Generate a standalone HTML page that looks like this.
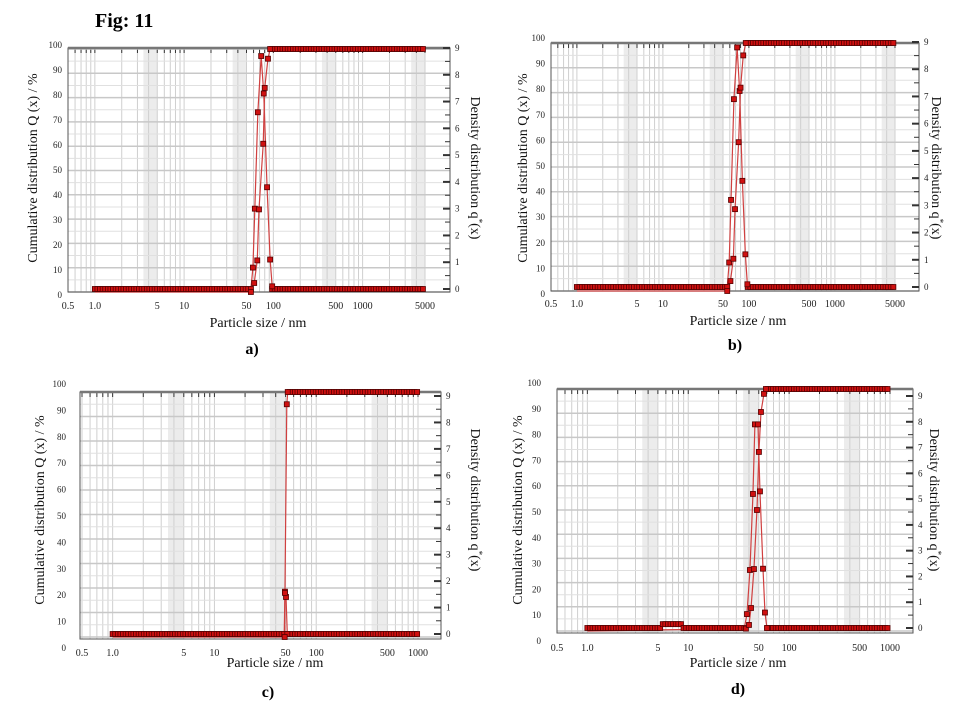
<!DOCTYPE html>
<html><head><meta charset="utf-8">
<style>
html,body{margin:0;padding:0;background:#fff;}
svg{display:block;font-family:"Liberation Serif",serif;}
</style></head>
<body>
<svg id="fig" width="960" height="720" viewBox="0 0 960 720" xmlns="http://www.w3.org/2000/svg">
<text x="95" y="27" font-size="20" font-weight="bold">Fig: 11</text>
</svg>
<script>
// ---- data ----
const xTicksA = [0.5,1,5,10,50,100,500,1000,5000];
const xTicksB = [0.5,1,5,10,50,100,500,1000,5000];
const xTicksC = [0.5,1,5,10,50,100,500,1000];
const xTicksD = [0.5,1,5,10,50,100,500,1000];
const xTickLabelsA = ["0.5","1.0","5","10","50","100","500","1000","5000"];
const xTickLabelsC = ["0.5","1.0","5","10","50","100","500","1000"];
const qTicks = [0,1,2,3,4,5,6,7,8,9];
const QTicks = [0,10,20,30,40,50,60,70,80,90,100];

const cumSizesA = [56,61,66,69,77,80,87,92];
const cumValsA  = [0,3.7,13,34,61,84,96,100];
const denSizesA = [56,59,62,67,73,78,85,92,97];
const denValsA  = [0,0.8,3.0,6.6,8.7,7.3,3.8,1.1,0.1];

const cumSizesB = [56,61,66,69,76,80,86,92];
const cumValsB  = [0,4,13,33,60,82,95,100];
const denSizesB = [56,59,62,67,73,78,84,91,96];
const denValsB  = [0,0.9,3.2,6.9,8.8,7.2,3.9,1.2,0.1];

const cumSizesC = [49,49.3,51.4,52.5];
const cumValsC  = [0,18,95,100];
const denSizesC = [48.5,49.3,50.5,52];
const denValsC  = [0,1.6,1.4,0];

const cumSizesD = [37.3,40,41.9,44.8,48,50.2,52.6,56.3,58.9];
const cumValsD  = [1,2.5,9.5,25.6,50,74,90.5,98,100];
const denSizesD = [36,38.2,40.9,43.8,45.8,49.1,51.4,55.1,57.6,60.3];
const denValsD  = [0,0.54,2.25,5.2,7.9,7.9,5.3,2.3,0.6,0];
const stepRangeD = [5.5,8.9];
const stepValD = 0.15;

// ---- rendering ----
const NS="http://www.w3.org/2000/svg";
const svg=document.getElementById('fig');
function mk(tag,attrs,parent){const e=document.createElementNS(NS,tag);for(const k in attrs)e.setAttribute(k,attrs[k]);(parent||svg).appendChild(e);return e;}

function panel(cfg){
  const g=mk('g',{});
  
  
  const lmin=Math.log10(cfg.xmin), lmax=Math.log10(cfg.xmax);
  const xs=v=>cfg.x0+(Math.log10(v)-lmin)/(lmax-lmin)*(cfg.x1-cfg.x0);
  const xinv=p=>Math.pow(10,lmin+(p-cfg.x0)/(cfg.x1-cfg.x0)*(lmax-lmin));
  const yQ=v=>cfg.Q0+v/100*(cfg.Q100-cfg.Q0);
  const yq=v=>cfg.q0+v/9*(cfg.q9-cfg.q0);
  const yQl=v=>cfg.lQ0+v/100*(cfg.lQ100-cfg.lQ0);
  // shading bands
  for(let d=-1;d<=3;d++){
    const a=3.5*Math.pow(10,d), b=5*Math.pow(10,d);
    if(b<=cfg.xmin||a>=cfg.xmax) continue;
    const r=mk('rect',{x:xs(Math.max(a,cfg.xmin)),y:cfg.T,width:xs(Math.min(b,cfg.xmax))-xs(Math.max(a,cfg.xmin)),height:cfg.B-cfg.T,fill:'#ececec'},g);
    
    
  }
  // vertical grid + top ticks
  for(let d=-1;d<=3;d++){for(let k=1;k<=9;k++){
    const v=k*Math.pow(10,d); if(v<cfg.xmin||v>cfg.xmax) continue;
    const x=xs(v);
    mk('line',{x1:x,y1:cfg.T,x2:x,y2:cfg.B,stroke:'#cfcfcf','stroke-width':1},g);
    mk('line',{x1:x,y1:cfg.T,x2:x,y2:cfg.T+5,stroke:'#333','stroke-width':1},g);
  }}
  // horizontal grid
  for(let v=0;v<=100;v+=5){
    const y=yQ(v);
    mk('line',{x1:cfg.L,y1:y,x2:cfg.R,y2:y,stroke:v%10?'#e0e0e0':'#c8c8c8','stroke-width':v%10?1:1.5},g);
  }
  // frame
  const fr=mk('rect',{x:cfg.L,y:cfg.T,width:cfg.R-cfg.L,height:cfg.B-cfg.T,fill:'none',stroke:'#555','stroke-width':1},g);
  
  
  mk('line',{x1:cfg.L,y1:cfg.T,x2:cfg.R,y2:cfg.T,stroke:'#777','stroke-width':2.5},g);
  // right axis ticks
  for(let v=0;v<=9;v+=0.5){
    const y=yq(v);
    mk('line',{x1:cfg.R-(v%1?5:7),y1:y,x2:cfg.R,y2:y,stroke:'#333','stroke-width':v%1?1:2},g);
  }
  qTicks.forEach(v=>{
    const t=mk('text',{x:cfg.R+5,y:yq(v)+3,'font-size':9,fill:'#222'},g);
    t.textContent=v;
    
    
  });
  QTicks.forEach(v=>{
    const t=mk('text',{x:cfg.labX,y:yQl(v)+3,'font-size':9,fill:'#222','text-anchor':'end'},g);
    t.textContent=v;
    
    
  });
  cfg.ticks.forEach((v,i)=>{
    const t=mk('text',{x:xs(v),y:cfg.xlY,'font-size':10,fill:'#222','text-anchor':'middle'},g);
    t.textContent=cfg.tickLabels[i];
    
    
  });
  // titles
  let t=mk('text',{x:cfg.xtX,y:cfg.xtY,'font-size':14,'text-anchor':'middle',fill:'#111'},g);
  t.textContent='Particle size / nm';
  
  
  t=mk('text',{x:cfg.capX,y:cfg.capY,'font-size':16,'font-weight':'bold','text-anchor':'middle',fill:'#000'},g);
  t.textContent=cfg.id+')';
  
  
  t=mk('text',{x:0,y:0,'font-size':14,'text-anchor':'middle',fill:'#111',transform:`translate(${cfg.ltX},${cfg.ltY}) rotate(-90)`},g);
  t.textContent='Cumulative distribution Q (x) / %';
  
  
  t=mk('text',{x:0,y:0,'font-size':14,'text-anchor':'middle',fill:'#111',transform:`translate(${cfg.rtX},${cfg.rtY}) rotate(90)`},g);
  t.innerHTML='Density distribution q<tspan dy="-5" font-size="9">*</tspan><tspan dy="5">(x)</tspan>';
  
  
  // series
  const baseStart=xs(1), peakStart=xs(cfg.den[0][0]);
  const peakEnd=xs(cfg.cum[0][cfg.cum[0].length-1]);
  const basePts=[], topPts=[];
  for(let p=baseStart;p<peakStart-1;p+=2.6){const s=xinv(p);let v=0;if(cfg.step&&s>=cfg.step[0]&&s<=cfg.step[1])v=cfg.stepVal;basePts.push([s,v]);}
  for(let p=peakEnd+2;p<=cfg.x1+0.1;p+=2.6){topPts.push([xinv(p),100]);}
  // lines
  const denLine=[...basePts.map(d=>[xs(d[0]),yq(d[1])]),...cfg.den[0].map((s,i)=>[xs(s),yq(cfg.den[1][i])])];
  const cumLine=[[xs(1),yQ(0)],...cfg.cum[0].map((s,i)=>[xs(s),yQ(cfg.cum[1][i])]),...topPts.map(d=>[xs(d[0]),yQ(d[1])])];
  let pl=mk('polyline',{points:denLine.map(p=>p.join(',')).join(' '),fill:'none',stroke:'#d04040','stroke-width':1.2},g);
  
  
  pl=mk('polyline',{points:cumLine.map(p=>p.join(',')).join(' '),fill:'none',stroke:'#d04040','stroke-width':1.2},g);
  
  
  mk('line',{x1:peakEnd,y1:yq(0),x2:cfg.x1,y2:yq(0),stroke:'#d04040','stroke-width':1.2},g);
  const marker=(x,y,name)=>{const r=mk('rect',{x:x-2.5,y:y-2.5,width:5,height:5,fill:'#d01010',stroke:'#500','stroke-width':0.8},g);
    
    };
  basePts.forEach(d=>marker(xs(d[0]),yq(d[1]),'density-point'));
  for(let p=peakEnd+2;p<=cfg.x1+0.1;p+=2.6) marker(p,yq(0),'density-point');
  topPts.forEach(d=>marker(xs(d[0]),yQ(d[1]),'cumulative-point'));
  cfg.den[0].forEach((s,i)=>marker(xs(s),yq(cfg.den[1][i]),'density-point'));
  cfg.cum[0].forEach((s,i)=>marker(xs(s),yQ(cfg.cum[1][i]),'cumulative-point'));
}

panel({id:'a',L:68,R:450,T:48,B:292,x0:68,x1:425,xmin:0.5,xmax:5000,Q0:292,Q100:49,q0:289,q9:48,lQ0:295,lQ100:45,labX:62,
  ticks:xTicksA,tickLabels:xTickLabelsA,xlY:309,xtX:258,xtY:327,capX:252,capY:354,ltX:37,ltY:168,rtX:471,rtY:168,
  cum:[cumSizesA,cumValsA],den:[denSizesA,denValsA]});
panel({id:'b',L:551,R:919,T:43,B:291,x0:551,x1:895,xmin:0.5,xmax:5000,Q0:291,Q100:43,q0:287,q9:42,lQ0:294,lQ100:38,labX:545,
  ticks:xTicksB,tickLabels:xTickLabelsA,xlY:307,xtX:738,xtY:325,capX:735,capY:350,ltX:527,ltY:168,rtX:932,rtY:168,
  cum:[cumSizesB,cumValsB],den:[denSizesB,denValsB]});
panel({id:'c',L:80,R:441,T:392,B:639,x0:82,x1:418,xmin:0.5,xmax:1000,Q0:637,Q100:392,q0:634,q9:396,lQ0:648,lQ100:384,labX:66,
  ticks:xTicksC,tickLabels:xTickLabelsC,xlY:656,xtX:275,xtY:667,capX:268,capY:697,ltX:44,ltY:510,rtX:471,rtY:500,
  cum:[cumSizesC,cumValsC],den:[denSizesC,denValsC]});
panel({id:'d',L:557,R:913,T:389,B:633,x0:557,x1:890,xmin:0.5,xmax:1000,Q0:631,Q100:389,q0:628,q9:396,lQ0:641,lQ100:383,labX:541,
  ticks:xTicksD,tickLabels:xTickLabelsC,xlY:651,xtX:738,xtY:667,capX:738,capY:694,ltX:522,ltY:510,rtX:930,rtY:500,
  cum:[cumSizesD,cumValsD],den:[denSizesD,denValsD],step:stepRangeD,stepVal:stepValD});
</script>
</body></html>
